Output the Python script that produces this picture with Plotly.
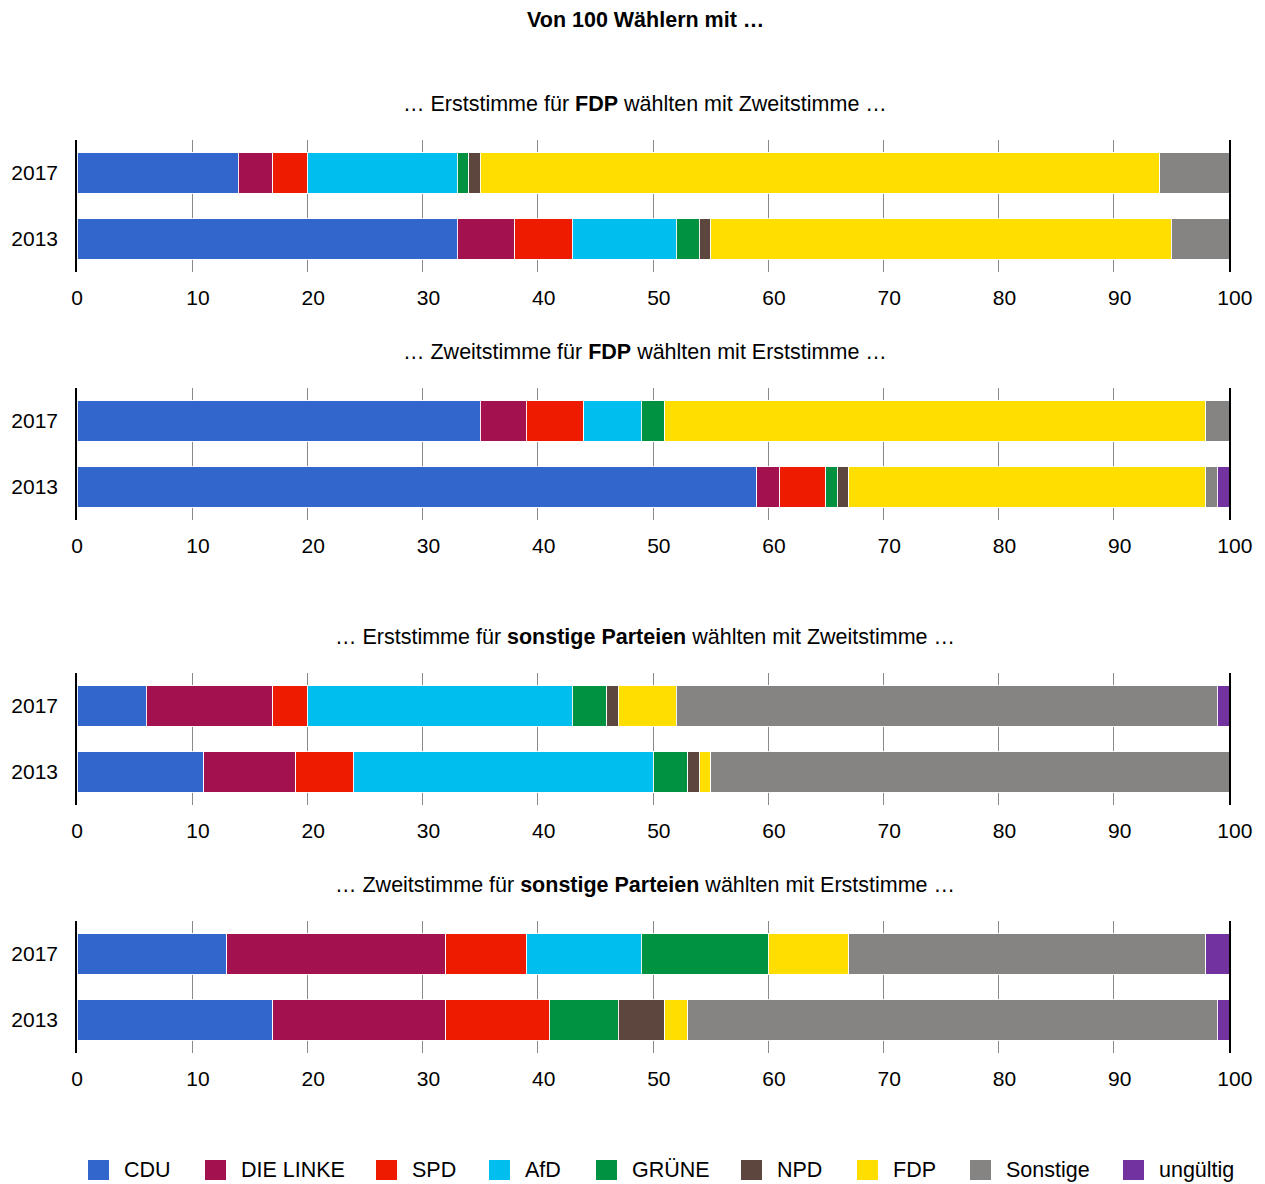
import plotly.graph_objects as go

W, H = 1265, 1184
OX, OY = 8, 8  # page body margin offset

years = ["2017", "2013"]
parties = ["CDU", "DIE LINKE", "SPD", "AfD", "GRÜNE", "NPD", "FDP", "Sonstige", "ungültig"]
colors = ["#3366cc", "#a3114f", "#ef1b00", "#00bfef", "#009241", "#5d463e", "#ffde00", "#858482", "#7232a0"]

# values per panel: party -> [2017, 2013]
p1_erst_fdp = {
    "CDU": [14, 33], "DIE LINKE": [3, 5], "SPD": [3, 5], "AfD": [13, 9],
    "GRÜNE": [1, 2], "NPD": [1, 1], "FDP": [59, 40], "Sonstige": [6, 5], "ungültig": [0, 0],
}
p2_zweit_fdp = {
    "CDU": [35, 59], "DIE LINKE": [4, 2], "SPD": [5, 4], "AfD": [5, 0],
    "GRÜNE": [2, 1], "NPD": [0, 1], "FDP": [47, 31], "Sonstige": [2, 1], "ungültig": [0, 1],
}
p3_erst_sonst = {
    "CDU": [6, 11], "DIE LINKE": [11, 8], "SPD": [3, 5], "AfD": [23, 26],
    "GRÜNE": [3, 3], "NPD": [1, 1], "FDP": [5, 1], "Sonstige": [47, 45], "ungültig": [1, 0],
}
p4_zweit_sonst = {
    "CDU": [13, 17], "DIE LINKE": [19, 15], "SPD": [7, 9], "AfD": [10, 0],
    "GRÜNE": [11, 6], "NPD": [0, 4], "FDP": [7, 2], "Sonstige": [31, 46], "ungültig": [2, 1],
}
panels = [p1_erst_fdp, p2_zweit_fdp, p3_erst_sonst, p4_zweit_sonst]
panel_titles = [
    "… Erststimme für <b>FDP</b> wählten mit Zweitstimme …",
    "… Zweitstimme für <b>FDP</b> wählten mit Erststimme …",
    "… Erststimme für <b>sonstige Parteien</b> wählten mit Zweitstimme …",
    "… Zweitstimme für <b>sonstige Parteien</b> wählten mit Erststimme …",
]
main_title = "<b>Von 100 Wählern mit …</b>"
xticks = list(range(0, 101, 10))
xticklabels = [str(v) for v in xticks]

FONT = "Liberation Sans, Arial, sans-serif"
FS = 21.5
TFS = 21

# layout geometry (reference pixels)
plot_tops = [140, 388, 673, 921]
plot_h = 132
title_ys = [104, 352, 637, 885]
x0, x1 = 77, 1229
cx = 645
legend_lefts = [88, 205, 376, 489, 596, 741, 857, 970, 1123]  # legend item start positions
legend_cy = 1170
sq = 21
text_dx = 34


def px(x):
    return (x - OX) / W


def py(y):
    return 1 - (y - OY) / H


fig = go.Figure()
for i, data in enumerate(panels):
    ax = "" if i == 0 else str(i + 1)
    for p, c in zip(parties, colors):
        fig.add_trace(go.Bar(
            y=years, x=data[p], name=p, orientation="h",
            marker=dict(color=c, line=dict(color="rgba(255,255,255,0.9)", width=1)),
            xaxis="x" + ax, yaxis="y" + ax, showlegend=False,
            hovertemplate=p + ": %{x}<extra></extra>",
        ))

layout = dict(
    width=W, height=H,
    margin=dict(l=0, r=0, t=0, b=0, autoexpand=False),
    paper_bgcolor="white", plot_bgcolor="white",
    barmode="stack", bargap=0.39,
    font=dict(family=FONT, size=FS, color="#000"),
    showlegend=False,
)
# labels of 10 and above sit slightly right of their gridline in the original
shown_ticks = [t if len(t) == 1 else "\u00a0\u00a0" + t for t in xticklabels]
for i in range(4):
    ax = "" if i == 0 else str(i + 1)
    top = plot_tops[i]
    bottom = top + plot_h
    layout["xaxis" + ax] = dict(
        domain=[px(x0), px(x1)], range=[0, 100], tickvals=xticks, ticktext=shown_ticks,
        showgrid=True, gridcolor="#8a8a8a", gridwidth=1,
        zeroline=False, showline=False, ticks="", automargin=False,
        anchor="y" + ax, fixedrange=True, ticklabelstandoff=11,
        tickfont=dict(size=TFS),
    )
    layout["yaxis" + ax] = dict(
        domain=[py(bottom), py(top)], type="category",
        categoryorder="array", categoryarray=years[::-1],
        showline=True, mirror=True, linecolor="#000", linewidth=1.5,
        showgrid=False, zeroline=False, ticks="", automargin=False,
        anchor="x" + ax, fixedrange=True, ticklabelstandoff=13,
        tickfont=dict(size=TFS),
    )

annotations = [dict(text=main_title, x=px(cx), y=py(20), xref="paper", yref="paper",
                    xanchor="center", yanchor="middle", showarrow=False,
                    font=dict(size=FS, family=FONT))]
for t, ty in zip(panel_titles, title_ys):
    annotations.append(dict(text=t, x=px(cx), y=py(ty), xref="paper", yref="paper",
                            xanchor="center", yanchor="middle", showarrow=False,
                            font=dict(size=FS, family=FONT)))

# legend (drawn as shapes + text so the swatches match the original size)
shapes = []
for p, c, lx in zip(parties, colors, legend_lefts):
    shapes.append(dict(type="rect", xref="paper", yref="paper",
                       x0=px(lx), x1=px(lx + sq), y0=py(legend_cy + 10), y1=py(legend_cy - 10),
                       fillcolor=c, line=dict(width=0)))
    annotations.append(dict(text=p, x=px(lx + text_dx), y=py(legend_cy), xref="paper", yref="paper",
                            xanchor="left", yanchor="middle", showarrow=False,
                            font=dict(size=FS, family=FONT)))

layout["annotations"] = annotations
layout["shapes"] = shapes
fig.update_layout(**layout)

fig.write_html("out.html")
